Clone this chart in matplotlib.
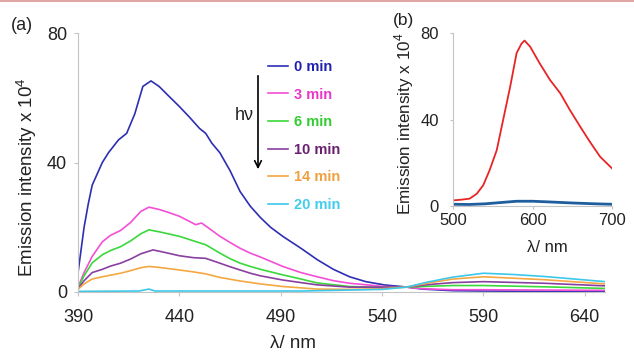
import matplotlib
matplotlib.use("Agg")
import matplotlib.pyplot as plt
from matplotlib.lines import Line2D

plt.rcParams['font.family'] = ['Liberation Sans', 'DejaVu Sans']
plt.rcParams['mathtext.fontset'] = 'custom'
plt.rcParams['mathtext.rm'] = 'Liberation Sans'

#main panel (a) - emission spectra after irradiation
labels = ["0 min", "3 min", "6 min", "10 min", "14 min", "20 min"]
line_colors = ["#2e2eb4", "#f24fd6", "#3ad83a", "#8a3fa0", "#f5a742", "#3cc8ea"]
text_colors = ["#2020b0", "#e836c8", "#30cc30", "#6a1f70", "#f0a040", "#40cdee"]

wl_0 = [390, 393, 395, 397, 399, 402, 405, 410, 414, 418, 422, 426, 430, 434, 440, 445, 450,
        453, 456, 460, 465, 470, 475, 480, 485, 491, 500, 508, 516, 524, 532, 541, 551, 560,
        575, 590, 620, 650]
em_0 = [5.9, 20, 27, 33, 35.8, 40, 43, 47, 49, 55, 63.5, 65.2, 63.5, 61, 57.3, 54, 50.5,
        49, 46, 43, 37.5, 31, 26.5, 23, 20, 17.2, 13.5, 10, 7, 4.7, 3.2, 2.2, 1.6, 0.9,
        0.4, 0.3, 0.2, 0.2]

wl_3 = [390, 393, 397, 402, 406, 411, 416, 421, 425, 430, 435, 440, 445, 448, 451, 455, 460,
        465, 470, 475, 480, 491, 500, 508, 516, 524, 541, 552, 560, 575, 590, 620, 650]
em_3 = [1.5, 6, 11, 15.5, 17.5, 19, 21.5, 24.9, 26.2, 25.5, 24.5, 23.4, 21.8, 20.8, 21.3, 19.5, 17.2,
        15.3, 13.5, 12, 10.8, 7.9, 6, 4.7, 3.5, 2.7, 1.7, 1.5, 1.0, 0.7, 0.7, 0.6, 0.5]

wl_6 = [390, 393, 397, 402, 406, 411, 416, 421, 425, 430, 435, 440, 447, 453, 460, 465, 470,
        475, 480, 491, 500, 508, 524, 540, 552, 565, 575, 590, 620, 650]
em_6 = [1.2, 5, 9, 11.5, 12.8, 14, 15.8, 18, 19.2, 18.6, 17.9, 17.2, 15.8, 14.6, 12, 10.3, 8.9,
        7.9, 7.0, 5.3, 4, 2.8, 1.7, 1.4, 1.5, 1.8, 2.0, 2.0, 1.6, 1.1]

wl_10 = [390, 393, 397, 402, 406, 411, 416, 421, 427, 433, 440, 447, 453, 460, 465, 470, 475,
         480, 491, 508, 524, 552, 565, 575, 590, 620, 650]
em_10 = [1.0, 3.5, 6, 7, 8, 8.9, 10.2, 11.8, 13, 12.2, 11.2, 10.6, 10.4, 8.9, 7.8, 6.8, 5.8,
         5.0, 3.7, 2.2, 1.5, 1.5, 2.4, 2.9, 3.2, 2.7, 1.9]

wl_14 = [390, 393, 397, 402, 406, 411, 416, 421, 425, 430, 440, 447, 453, 460, 470, 480, 491,
         508, 524, 540, 552, 565, 575, 590, 620, 650]
em_14 = [0.8, 2.5, 4, 4.7, 5.2, 5.8, 6.6, 7.5, 7.9, 7.6, 6.8, 6.2, 5.6, 4.5, 3.4, 2.5, 1.7,
         0.9, 0.8, 1.0, 1.5, 3.0, 4.0, 4.7, 3.8, 2.5]

wl_20 = [390, 420, 425, 428, 500, 540, 552, 562, 575, 590, 605, 620, 635, 650]
em_20 = [0.2, 0.3, 0.9, 0.3, 0.3, 0.8, 1.5, 3.0, 4.6, 5.8, 5.4, 4.8, 4.0, 3.2]

main_x = [wl_0, wl_3, wl_6, wl_10, wl_14, wl_20]
main_y = [em_0, em_3, em_6, em_10, em_14, em_20]

#inset panel (b)
wl_red = [500, 510, 521, 530, 538, 546, 555, 563, 572, 580, 586, 590, 597, 609, 622, 635, 647,
          660, 672, 685, 700]
em_red = [2.6, 2.9, 3.4, 5.7, 9.6, 16.5, 25.8, 39.7, 55.3, 70.7, 75, 76.5, 73.7, 66, 58.3, 52.1, 44.4,
          36.7, 29.8, 22.8, 17.4]
wl_blue = [500, 520, 540, 560, 580, 600, 620, 650, 680, 700]
em_blue = [0.8, 0.7, 1.0, 1.6, 2.2, 2.2, 1.9, 1.4, 1.0, 0.8]

W, H = 634, 353
fig = plt.figure(figsize=(W / 100, H / 100), dpi=100)
spine_col = "#c4c4c4"

ax = fig.add_axes([78 / W, 1 - 292 / H, 527 / W, 259 / H])
handles = []
for xs, ys, c, lab in zip(main_x, main_y, line_colors, labels):
    h, = ax.plot(xs, ys, color=c, lw=1.2, label=lab)
    handles.append(h)
ax.set_xlim(390, 650)
ax.set_ylim(0, 80)
ax.set_xticks([390, 440, 490, 540, 590, 640])
ax.set_yticks([0, 40, 80])
for s in ["top", "right"]:
    ax.spines[s].set_visible(False)
for s in ["left", "bottom"]:
    ax.spines[s].set_color(spine_col)
ax.tick_params(direction="out", length=3, color=spine_col, labelsize=13, labelcolor="#222222")
ax.tick_params(axis="x", pad=9)
ax.tick_params(axis="y", pad=5)
ax.set_xlabel("λ/ nm", fontsize=13.5, color="#222222")
ax.set_ylabel("Emission intensity x 10$^{4}$", fontsize=13.5, color="#222222")
ax.xaxis.set_label_coords((293 - 78) / 527, (292 - 335) / 259)
ax.yaxis.set_label_coords((39 - 78) / 527, (292 - 177) / 259)

leg = ax.legend(handles=handles, loc="upper left", bbox_to_anchor=(268 / W, 1 - 60 / H),
                bbox_transform=fig.transFigure, frameon=False, borderpad=0, borderaxespad=0,
                handlelength=1.4, handletextpad=0.35, labelspacing=0.93,
                prop={"weight": "bold", "size": 10.5}, labelcolor=text_colors)

#irradiation arrow
ax.annotate("", xy=(258, H - 172), xytext=(258, H - 73), xycoords="figure pixels",
            textcoords="figure pixels",
            arrowprops=dict(arrowstyle="->", color="black", lw=1.2, mutation_scale=12))
fig.text(244 / W, 1 - 116 / H, "hν", fontsize=13, ha="center", va="center", color="#222222")

#inset
axb = fig.add_axes([453 / W, 1 - 206 / H, 159 / W, 173 / H])
axb.plot(wl_red, em_red, color="#e82424", lw=1.3)
axb.plot(wl_blue, em_blue, color="#1f5e9e", lw=2.0)
axb.set_xlim(500, 700)
axb.set_ylim(0, 80)
axb.set_xticks([500, 600, 700])
axb.set_yticks([0, 40, 80])
axb.patch.set_alpha(0)
for s in ["top", "right"]:
    axb.spines[s].set_visible(False)
for s in ["left", "bottom"]:
    axb.spines[s].set_color(spine_col)
axb.tick_params(direction="out", length=2, color=spine_col, labelsize=12, labelcolor="#222222")
axb.tick_params(axis="x", pad=3)
axb.tick_params(axis="y", pad=8)
axb.set_xlabel("λ/ nm", fontsize=12, color="#222222")
axb.set_ylabel("Emission intensity x 10$^{4}$", fontsize=12.3, color="#222222")
axb.xaxis.set_label_coords((547 - 453) / 159, (206 - 240) / 173)
axb.yaxis.set_label_coords((416 - 453) / 159, (206 - 124) / 173)

fig.text(22 / W, 1 - 25 / H, "(a)", fontsize=13, ha="center", va="center", color="#222222")
fig.text(403 / W, 1 - 21 / H, "(b)", fontsize=12.5, ha="center", va="center", color="#222222")

#thin border line at top
fig.add_artist(Line2D([0, 1], [1 - 1 / H, 1 - 1 / H], transform=fig.transFigure,
                      color="#e2a6a6", lw=1.5))

fig.savefig("out.png", dpi=100)
